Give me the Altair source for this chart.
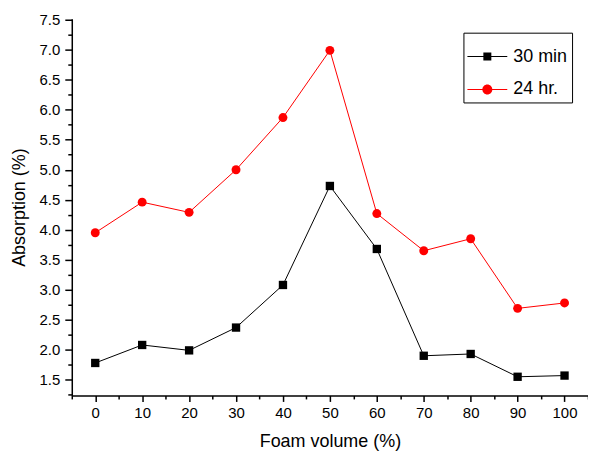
import altair as alt
import pandas as pd

FOAM = [0, 10, 20, 30, 40, 50, 60, 70, 80, 90, 100]
ABS_30MIN = [1.78, 2.08, 1.99, 2.37, 3.08, 4.73, 3.68, 1.90, 1.93, 1.55, 1.57]
ABS_24HR = [3.95, 4.46, 4.29, 5.00, 5.87, 6.99, 4.27, 3.65, 3.85, 2.69, 2.78]
SERIES = ["30 min", "24 hr."]
COLORS = ["#000000", "#ff0000"]
X_TICKS = [-5, 0, 5, 10, 15, 20, 25, 30, 35, 40, 45, 50, 55, 60, 65, 70, 75, 80, 85, 90, 95, 100, 105]
Y_TICKS = [1.25, 1.5, 1.75, 2.0, 2.25, 2.5, 2.75, 3.0, 3.25, 3.5, 3.75, 4.0, 4.25, 4.5,
           4.75, 5.0, 5.25, 5.5, 5.75, 6.0, 6.25, 6.5, 6.75, 7.0, 7.25, 7.5]

rows = []
for s, vals in zip(SERIES, [ABS_30MIN, ABS_24HR]):
    for x, y in zip(FOAM, vals):
        rows.append({"x": x, "y": y, "series": s})
df = pd.DataFrame(rows)

FONT = "Liberation Sans"
major_y = "abs(datum.value*2 - round(datum.value*2)) < 0.001"
major_x = "datum.value % 10 == 0"

x_enc = alt.X(
    "x:Q",
    scale=alt.Scale(domain=[-5, 105], nice=False, zero=False),
    axis=alt.Axis(
        title="Foam volume (%)", values=X_TICKS,
        labelExpr=f"{major_x} ? datum.label : ''",
        tickSize={"condition": {"test": major_x, "value": 6}, "value": 3.5},
        labelOverlap=False, labelFlush=False, labelPadding=4,
        titlePadding=12,
    ),
)
y_enc = alt.Y(
    "y:Q",
    scale=alt.Scale(domain=[1.239, 7.517], nice=False, zero=False),
    axis=alt.Axis(
        title="Absorption (%)", values=Y_TICKS,
        labelExpr=f"{major_y} ? format(datum.value, '.1f') : ''",
        tickSize={"condition": {"test": major_y, "value": 7}, "value": 4},
        labelOverlap=False, labelFlush=False, labelPadding=5,
        titlePadding=11,
    ),
)

base = alt.Chart(df).encode(x=x_enc, y=y_enc)

d30 = base.transform_filter(alt.datum.series == "30 min")
d24 = base.transform_filter(alt.datum.series == "24 hr.")

line30 = d30.mark_line(color="#000000", strokeWidth=1)
pts30 = d30.mark_square(size=70, color="#000000", opacity=1)
line24 = d24.mark_line(color="#ff0000", strokeWidth=1)
pts24 = d24.mark_circle(size=80, color="#ff0000", opacity=1)

PATH_SQ = "M-1,-0.025H1V0.025H-1Z M-0.2,-0.2H0.2V0.2H-0.2Z"
PATH_CI = "M-1,-0.025H1V0.025H-1Z M0.25,0A0.25,0.25,0,1,1,-0.25,0A0.25,0.25,0,1,1,0.25,0Z"

leg = alt.Legend(
    title=None, orient="none", legendX=393, legendY=14,
    strokeColor="black", padding=4, symbolSize=1600, symbolOpacity=1,
    symbolStrokeWidth=0, labelFont=FONT, labelFontSize=18, labelColor="black",
    labelOffset=6, rowPadding=4,
)
legend_layer = base.mark_point(filled=True, opacity=0).encode(
    color=alt.Color("series:N", scale=alt.Scale(domain=SERIES, range=COLORS), legend=leg),
    shape=alt.Shape("series:N", scale=alt.Scale(domain=SERIES, range=[PATH_SQ, PATH_CI]), legend=leg),
)

chart = alt.layer(line30, line24, pts30, pts24, legend_layer).properties(
    width=518, height=378,
    autosize=alt.AutoSizeParams(type="none"),
    padding={"left": 64, "top": 10, "right": 0, "bottom": 58},
).configure_view(stroke=None).configure_axis(
    grid=False, domainColor="black", domainWidth=1.5, tickColor="black", tickWidth=1.5,
    labelFont=FONT, labelFontSize=15, labelColor="black",
    titleFont=FONT, titleFontSize=18, titleFontWeight="normal", titleColor="black",
)

chart.save("out.html", embed_options={"renderer": "svg", "actions": False})
